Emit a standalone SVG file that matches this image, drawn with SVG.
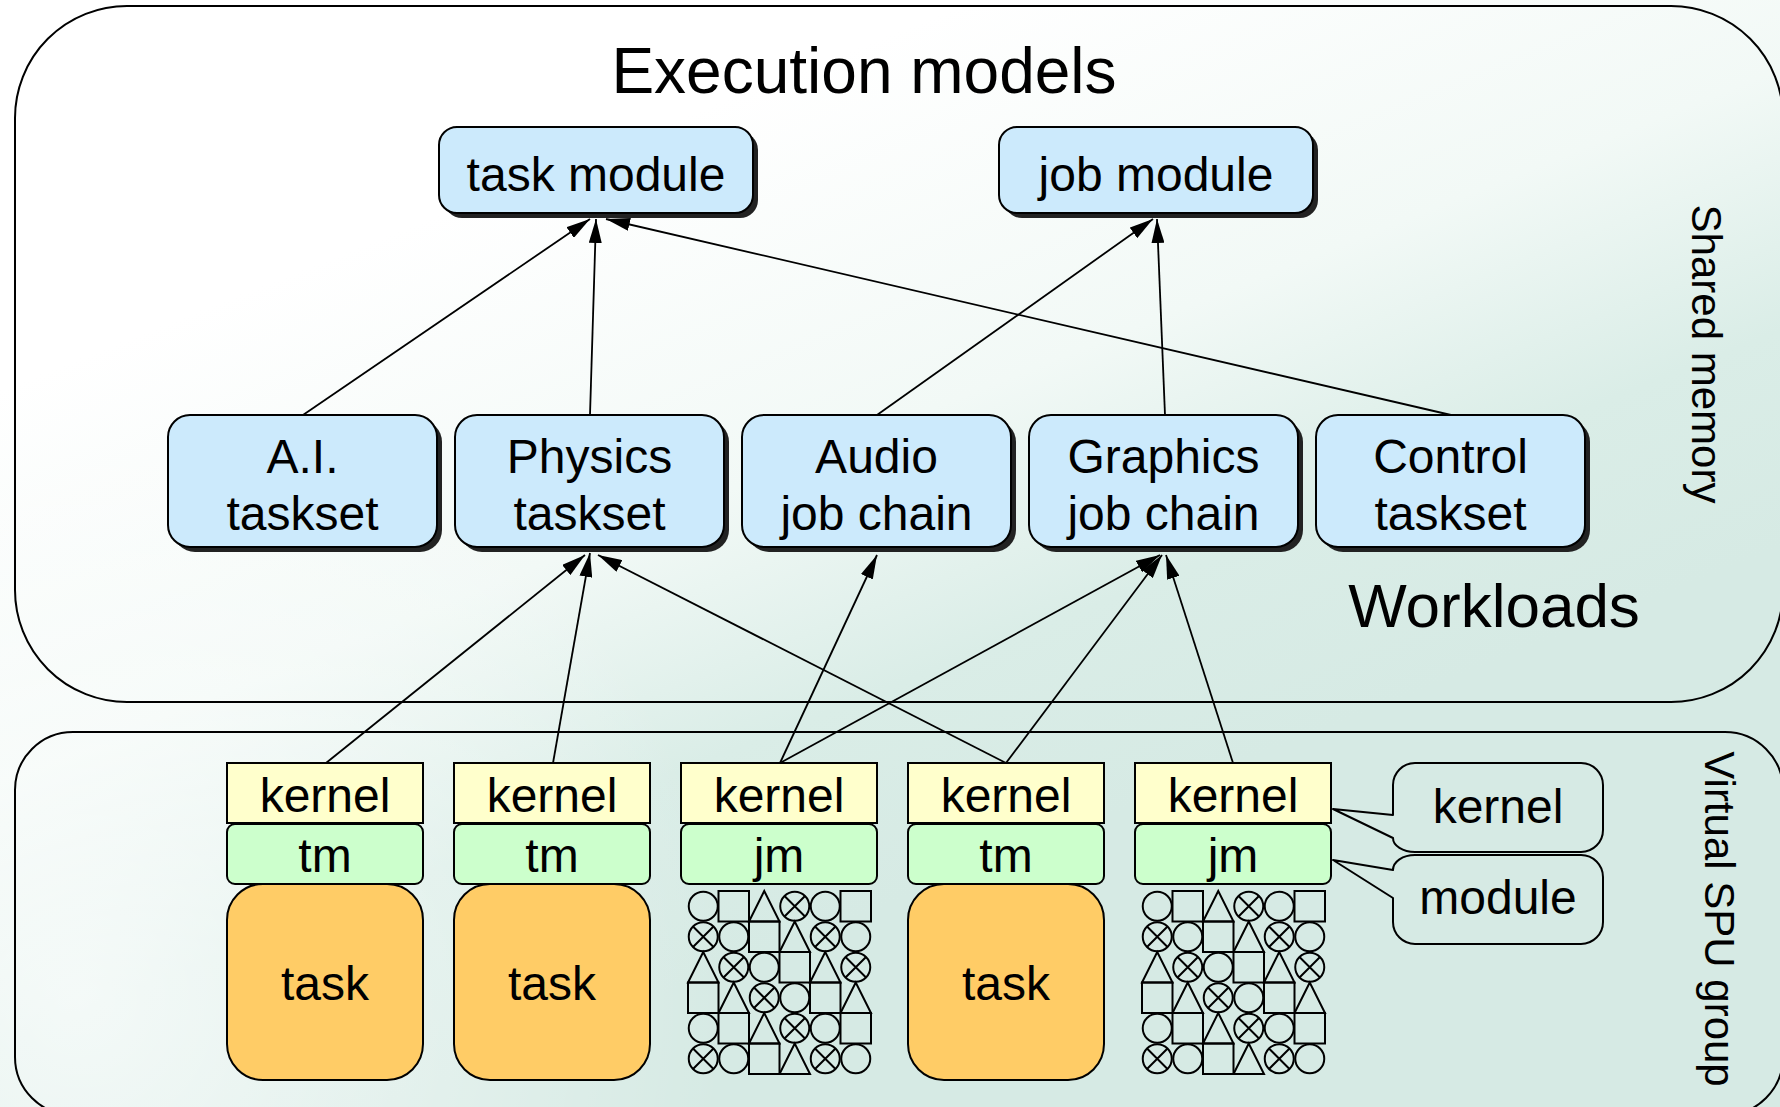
<svg xmlns="http://www.w3.org/2000/svg" xmlns:xlink="http://www.w3.org/1999/xlink" width="1780" height="1107" viewBox="0 0 1780 1107">
  <defs>
    <linearGradient id="bgGrad" gradientUnits="userSpaceOnUse" x1="600" y1="150" x2="900" y2="900">
      <stop offset="0" stop-color="#ffffff"/>
      <stop offset="0.45" stop-color="#f2f9f6"/>
      <stop offset="0.75" stop-color="#daede7"/>
      <stop offset="1" stop-color="#d6eae4"/>
    </linearGradient>
    <radialGradient id="glowLeft" gradientUnits="userSpaceOnUse" cx="80" cy="1000" r="650">
      <stop offset="0" stop-color="#ffffff" stop-opacity="0.7"/>
      <stop offset="1" stop-color="#ffffff" stop-opacity="0"/>
    </radialGradient>
    <marker id="arrow" markerUnits="userSpaceOnUse" markerWidth="24" markerHeight="13" refX="24" refY="6.5" orient="auto">
      <path d="M0,0 L24,6.5 L0,13 Z" fill="#000"/>
    </marker>
    <!-- job element glyphs, 30.5 x 30.5 cells -->
    <g id="gC" class="glyph"><circle cx="15.25" cy="15.25" r="14.5"/></g>
    <g id="gS" class="glyph"><rect x="0" y="0" width="30.5" height="30.5"/></g>
    <g id="gT" class="glyph"><path d="M15.25,0 L0,30.5 L30.5,30.5 Z"/></g>
    <g id="gX" class="glyph"><circle cx="15.25" cy="15.25" r="14.5"/><path d="M5,5 L25.5,25.5 M25.5,5 L5,25.5"/></g>
    <!-- 6x6 grid of jobs -->
    <g id="jobGrid">
      <use href="#gC" x="0" y="0"/><use href="#gS" x="30.5" y="0"/><use href="#gT" x="61" y="0"/><use href="#gX" x="91.5" y="0"/><use href="#gC" x="122" y="0"/><use href="#gS" x="152.5" y="0"/>
      <use href="#gX" x="0" y="30.5"/><use href="#gC" x="30.5" y="30.5"/><use href="#gS" x="61" y="30.5"/><use href="#gT" x="91.5" y="30.5"/><use href="#gX" x="122" y="30.5"/><use href="#gC" x="152.5" y="30.5"/>
      <use href="#gT" x="0" y="61"/><use href="#gX" x="30.5" y="61"/><use href="#gC" x="61" y="61"/><use href="#gS" x="91.5" y="61"/><use href="#gT" x="122" y="61"/><use href="#gX" x="152.5" y="61"/>
      <use href="#gS" x="0" y="91.5"/><use href="#gT" x="30.5" y="91.5"/><use href="#gX" x="61" y="91.5"/><use href="#gC" x="91.5" y="91.5"/><use href="#gS" x="122" y="91.5"/><use href="#gT" x="152.5" y="91.5"/>
      <use href="#gC" x="0" y="122"/><use href="#gS" x="30.5" y="122"/><use href="#gT" x="61" y="122"/><use href="#gX" x="91.5" y="122"/><use href="#gC" x="122" y="122"/><use href="#gS" x="152.5" y="122"/>
      <use href="#gX" x="0" y="152.5"/><use href="#gC" x="30.5" y="152.5"/><use href="#gS" x="61" y="152.5"/><use href="#gT" x="91.5" y="152.5"/><use href="#gX" x="122" y="152.5"/><use href="#gC" x="152.5" y="152.5"/>
    </g>
  </defs>
  <style>
    .panel { fill: none; stroke: #000; stroke-width: 2; }
    .blue { fill: #cceafc; stroke: #000; stroke-width: 2; }
    .shadow { fill: #222; }
    .kern { fill: #ffffcc; stroke: #000; stroke-width: 2; }
    .mod { fill: #ccffcc; stroke: #000; stroke-width: 2; }
    .task { fill: #ffcc66; stroke: #000; stroke-width: 2; }
    .callout { fill: none; stroke: #000; stroke-width: 2; stroke-linejoin: round; }
    .glyph { fill: none; stroke: #000; stroke-width: 2; }
    .t { font-family: "Liberation Sans", Arial, Helvetica, sans-serif; font-size: 48px; text-anchor: middle; fill: #000; }
    .big { font-size: 64px; }
    .side { font-size: 42px; }
    .edge { fill: none; stroke: #000; stroke-width: 1.8; marker-end: url(#arrow); }
  </style>

  <!-- backdrop -->
  <rect x="0" y="0" width="1780" height="1107" fill="url(#bgGrad)"/>
  <rect x="0" y="0" width="1780" height="1107" fill="url(#glowLeft)"/>

  <!-- shared memory area -->
  <g id="shared-memory">
    <rect class="panel" x="15" y="6" width="1768" height="696" rx="112" ry="112"/>
    <text class="t big" x="864" y="93">Execution models</text>
    <text class="t big" x="1494" y="627" style="font-size:62px">Workloads</text>
    <text class="t side" transform="translate(1692,354) rotate(90)">Shared memory</text>
  </g>

  <!-- SPU group area -->
  <g id="spu-group">
    <rect class="panel" x="15" y="732" width="1768" height="383" rx="58" ry="58"/>
    <text class="t side" transform="translate(1705,919) rotate(90)">Virtual SPU group</text>
  </g>

  <!-- execution models -->
  <g id="task-module">
    <rect class="shadow" x="444" y="132" width="314" height="86" rx="18"/>
    <rect class="blue" x="439" y="127" width="314" height="86" rx="18"/>
    <text class="t" x="596" y="191">task module</text>
  </g>
  <g id="job-module">
    <rect class="shadow" x="1004" y="132" width="314" height="86" rx="18"/>
    <rect class="blue" x="999" y="127" width="314" height="86" rx="18"/>
    <text class="t" x="1156" y="191">job module</text>
  </g>

  <!-- workloads -->
  <g id="ai-taskset">
    <rect class="shadow" x="173" y="420" width="269" height="132" rx="22"/>
    <rect class="blue" x="168" y="415" width="269" height="132" rx="22"/>
    <text class="t" x="302.5" y="473">A.I.</text>
    <text class="t" x="302.5" y="530">taskset</text>
  </g>
  <g id="physics-taskset">
    <rect class="shadow" x="460" y="420" width="269" height="132" rx="22"/>
    <rect class="blue" x="455" y="415" width="269" height="132" rx="22"/>
    <text class="t" x="589.5" y="473">Physics</text>
    <text class="t" x="589.5" y="530">taskset</text>
  </g>
  <g id="audio-job-chain">
    <rect class="shadow" x="747" y="420" width="269" height="132" rx="22"/>
    <rect class="blue" x="742" y="415" width="269" height="132" rx="22"/>
    <text class="t" x="876.5" y="473">Audio</text>
    <text class="t" x="876.5" y="530">job chain</text>
  </g>
  <g id="graphics-job-chain">
    <rect class="shadow" x="1034" y="420" width="269" height="132" rx="22"/>
    <rect class="blue" x="1029" y="415" width="269" height="132" rx="22"/>
    <text class="t" x="1163.5" y="473">Graphics</text>
    <text class="t" x="1163.5" y="530">job chain</text>
  </g>
  <g id="control-taskset">
    <rect class="shadow" x="1321" y="420" width="269" height="132" rx="22"/>
    <rect class="blue" x="1316" y="415" width="269" height="132" rx="22"/>
    <text class="t" x="1450.5" y="473">Control</text>
    <text class="t" x="1450.5" y="530">taskset</text>
  </g>

  <!-- SPU stacks -->
  <g id="spu-1">
    <rect class="kern" x="227" y="763" width="196" height="60"/>
    <text class="t" x="325" y="812">kernel</text>
    <rect class="mod" x="227" y="824" width="196" height="60" rx="8"/>
    <text class="t" x="325" y="872">tm</text>
    <rect class="task" x="227" y="884" width="196" height="196" rx="36"/>
    <text class="t" x="325" y="1000">task</text>
  </g>
  <g id="spu-2">
    <rect class="kern" x="454" y="763" width="196" height="60"/>
    <text class="t" x="552" y="812">kernel</text>
    <rect class="mod" x="454" y="824" width="196" height="60" rx="8"/>
    <text class="t" x="552" y="872">tm</text>
    <rect class="task" x="454" y="884" width="196" height="196" rx="36"/>
    <text class="t" x="552" y="1000">task</text>
  </g>
  <g id="spu-3">
    <rect class="kern" x="681" y="763" width="196" height="60"/>
    <text class="t" x="779" y="812">kernel</text>
    <rect class="mod" x="681" y="824" width="196" height="60" rx="8"/>
    <text class="t" x="779" y="872">jm</text>
    <use href="#jobGrid" x="688" y="891"/>
  </g>
  <g id="spu-4">
    <rect class="kern" x="908" y="763" width="196" height="60"/>
    <text class="t" x="1006" y="812">kernel</text>
    <rect class="mod" x="908" y="824" width="196" height="60" rx="8"/>
    <text class="t" x="1006" y="872">tm</text>
    <rect class="task" x="908" y="884" width="196" height="196" rx="36"/>
    <text class="t" x="1006" y="1000">task</text>
  </g>
  <g id="spu-5">
    <rect class="kern" x="1135" y="763" width="196" height="60"/>
    <text class="t" x="1233" y="812">kernel</text>
    <rect class="mod" x="1135" y="824" width="196" height="60" rx="8"/>
    <text class="t" x="1233" y="872">jm</text>
    <use href="#jobGrid" x="1142" y="891"/>
  </g>

  <!-- legend callouts -->
  <g id="callout-kernel">
    <path class="callout" d="M1415,763 H1581 A22,22 0 0 1 1603,785 V830 A22,22 0 0 1 1581,852 H1415 A22,14 0 0 1 1393,838 L1333,809 L1393,815 V785 A22,22 0 0 1 1415,763 Z"/>
    <text class="t" x="1498" y="823">kernel</text>
  </g>
  <g id="callout-module">
    <path class="callout" d="M1415,855 H1581 A22,22 0 0 1 1603,877 V922 A22,22 0 0 1 1581,944 H1415 A22,22 0 0 1 1393,922 V898 L1333,860 L1393,870 A22,15 0 0 1 1415,855 Z"/>
    <text class="t" x="1498" y="914">module</text>
  </g>

  <!-- connectors -->
  <g id="connectors">
    <line class="edge" x1="303" y1="415" x2="590" y2="219"/>
    <line class="edge" x1="590" y1="415" x2="596" y2="219"/>
    <line class="edge" x1="1451" y1="415" x2="606" y2="219"/>
    <line class="edge" x1="877" y1="415" x2="1153" y2="219"/>
    <line class="edge" x1="1165" y1="415" x2="1157" y2="219"/>

    <line class="edge" x1="326" y1="763" x2="585" y2="555"/>
    <line class="edge" x1="553" y1="763" x2="590" y2="553"/>
    <line class="edge" x1="1006" y1="763" x2="598" y2="555"/>
    <line class="edge" x1="780" y1="763" x2="877" y2="555"/>
    <line class="edge" x1="780" y1="763" x2="1160" y2="555"/>
    <line class="edge" x1="1006" y1="763" x2="1162" y2="555"/>
    <line class="edge" x1="1233" y1="763" x2="1166" y2="555"/>
  </g>
</svg>
